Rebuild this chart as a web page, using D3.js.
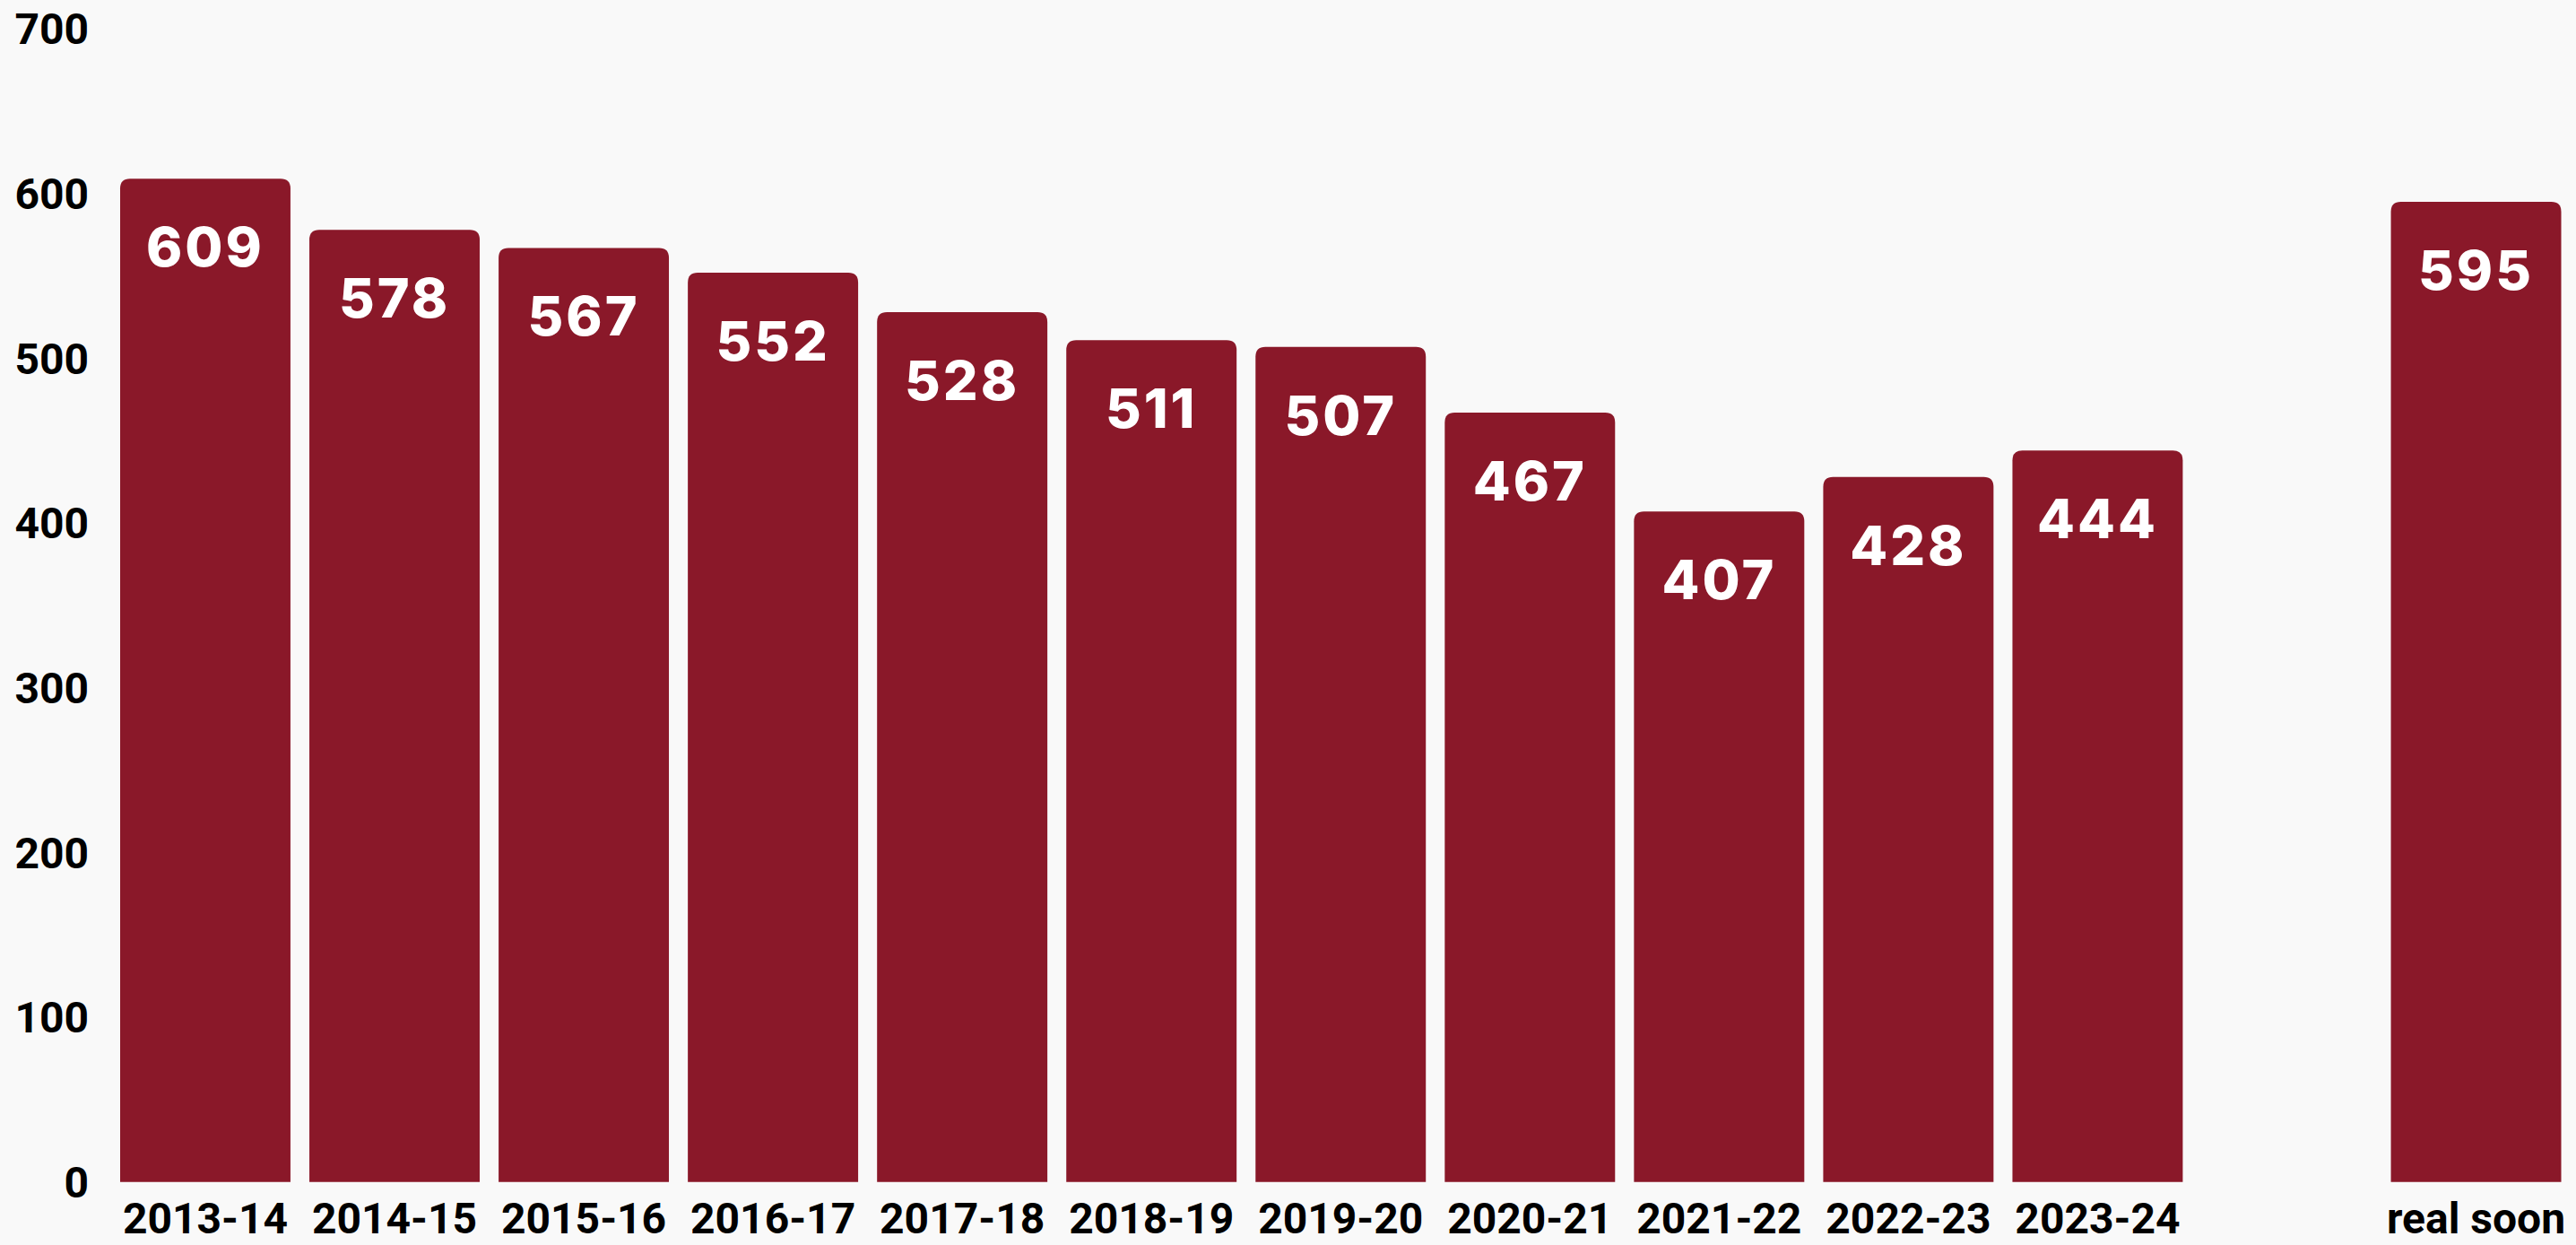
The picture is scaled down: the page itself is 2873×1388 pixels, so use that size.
<!DOCTYPE html>
<html>
<head>
<meta charset="utf-8">
<script src="https://cdn.jsdelivr.net/npm/d3@7"></script>
<style>
  html, body { margin: 0; padding: 0; background: #f9f9f9; overflow: hidden; }
  svg { display: block; }
  .tick-y, .tick-x { font-family: Roboto, sans-serif; font-weight: 700; fill: #000; }
  .val { font-family: Inter, sans-serif; font-weight: 800; fill: #fff; }
</style>
</head>
<body>
<script>
// Values per school year, plus the projected one on the right (blank slot before it).
var categories = ['2013-14', '2014-15', '2015-16', '2016-17', '2017-18', '2018-19',
                  '2019-20', '2020-21', '2021-22', '2022-23', '2023-24', '', 'real soon'];
var values     = [609, 578, 567, 552, 528, 511, 507, 467, 407, 428, 444, null, 595];
var yTicks     = [0, 100, 200, 300, 400, 500, 600, 700];

(function () {
  var W = 2873, H = 1388;
  var svg = d3.select('body').append('svg').attr('width', W).attr('height', H);

  var x = d3.scaleBand().domain(d3.range(categories.length))
    .range([134, 2856.5]).paddingInner(0.1).paddingOuter(0);
  var y = d3.scaleLinear().domain([0, 700]).range([1317.7, 32.2]);

  // y labels only — no axis line, no grid
  svg.append('g').selectAll('text').data(yTicks).enter().append('text')
    .attr('class', 'tick-y')
    .attr('x', 99).attr('y', function (d) { return y(d); })
    .attr('dy', '0.36em')
    .attr('text-anchor', 'end')
    .style('font-size', '48px')
    .text(function (d) { return d; });

  var rows = values.map(function (v, i) { return { i: i, v: v, c: categories[i] }; })
    .filter(function (d) { return d.v != null; });

  // bars: rounded top corners, square bottom
  var r = 11;
  function barPath(d) {
    var x0 = x(d.i), x1 = x0 + x.bandwidth(), y0 = y(d.v), yb = y(0);
    return 'M' + x0 + ',' + yb +
      'V' + (y0 + r) + 'Q' + x0 + ',' + y0 + ' ' + (x0 + r) + ',' + y0 +
      'H' + (x1 - r) + 'Q' + x1 + ',' + y0 + ' ' + x1 + ',' + (y0 + r) +
      'V' + yb + 'Z';
  }
  svg.append('g').selectAll('path').data(rows).enter().append('path')
    .attr('d', barPath).attr('fill', '#8a1829');

  svg.append('g').selectAll('text').data(rows).enter().append('text')
    .attr('class', 'val')
    .attr('x', function (d) { return x(d.i) + x.bandwidth() / 2; })
    .attr('y', function (d) { return y(d.v) + 76; })
    .attr('dy', '0.36em')
    .attr('text-anchor', 'middle')
    .style('font-size', '61px')
    .style('letter-spacing', '3px')
    .text(function (d) { return d.v; });

  // category labels under the bars
  svg.append('g').selectAll('text').data(rows).enter().append('text')
    .attr('class', 'tick-x')
    .attr('x', function (d) { return x(d.i) + x.bandwidth() / 2; })
    .attr('y', 1375)
    .attr('text-anchor', 'middle')
    .style('font-size', '48px')
    .text(function (d) { return d.c; });
})();
</script>
</body>
</html>
